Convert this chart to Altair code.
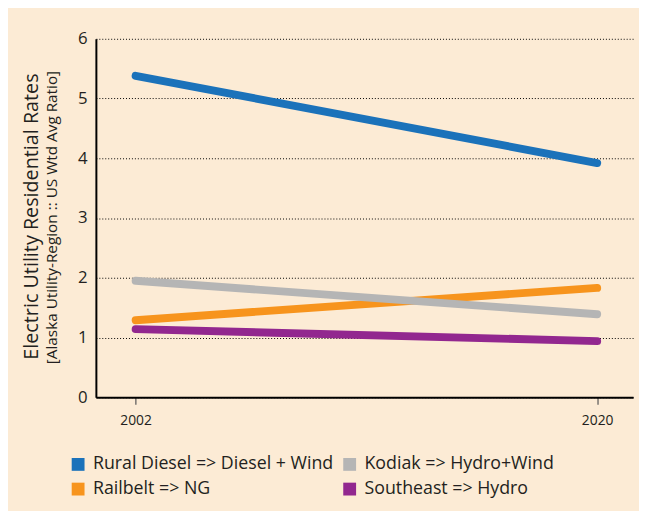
import altair as alt
import pandas as pd

series = ["Rural Diesel => Diesel + Wind", "Railbelt => NG", "Kodiak => Hydro+Wind", "Southeast => Hydro"]
colors = ["#1b72ba", "#f7941d", "#b5b5b5", "#92278f"]
years = [2002, 2020]
values_2002 = [5.38, 1.29, 1.95, 1.14]
values_2020 = [3.92, 1.83, 1.39, 0.94]
y_ticks = [0, 1, 2, 3, 4, 5, 6]

rows = []
for s, a, b in zip(series, values_2002, values_2020):
    rows.append({"series": s, "year": years[0], "value": a})
    rows.append({"series": s, "year": years[1], "value": b})
df = pd.DataFrame(rows)

FONT = "Open Sans"

x = alt.X("year:Q", scale=alt.Scale(domain=[2000.45, 2021.4], nice=False, zero=False),
          axis=alt.Axis(values=years, format="d", title=None, grid=False,
                        domainColor="black", domainWidth=2, tickColor="#555555", tickSize=7,
                        tickWidth=1.2, labelFontSize=14, labelColor="#231f20", labelPadding=10,
                        labelFont=FONT))
y = alt.Y("value:Q", scale=alt.Scale(domain=[0, 6], nice=False),
          axis=alt.Axis(values=y_ticks, format="d", title=None, grid=True, gridColor="black",
                        gridDash=[1, 2], gridWidth=1, ticks=False, domainColor="black",
                        domainWidth=2, labelFontSize=17, labelColor="#231f20",
                        labelPadding=9, labelFont=FONT))

color_scale = alt.Scale(domain=series, range=colors)

lines = alt.Chart(df).mark_line(strokeWidth=8, strokeCap="round").encode(
    x=x, y=y,
    color=alt.Color("series:N", scale=color_scale, legend=None),
    detail="series:N",
)

legend_layer = alt.Chart(df).mark_square(size=0, opacity=1, filled=True).encode(
    x=alt.X("year:Q"), y=alt.Y("value:Q"),
    color=alt.Color("series:N", scale=color_scale, sort=series,
                    legend=alt.Legend(title=None, orient="none", legendX=-27, legendY=422,
                                      columns=2, columnPadding=7, rowPadding=7,
                                      symbolType="square", symbolSize=169, symbolStrokeWidth=0,
                                      symbolOpacity=1,
                                      labelFontSize=18, labelColor="#231f20", labelFont=FONT,
                                      labelOffset=6, labelLimit=400)),
)

title_df = pd.DataFrame({"t": ["Electric Utility Residential Rates"]})
sub_df = pd.DataFrame({"t": ["[Alaska Utility-Region :: US Wtd Avg Ratio]"]})
title1 = alt.Chart(title_df).mark_text(angle=270, fontSize=20, font=FONT, color="#231f20",
                                       baseline="middle", align="center").encode(
    text="t:N", x=alt.value(-65), y=alt.value(180))
title2 = alt.Chart(sub_df).mark_text(angle=270, fontSize=15.5, font=FONT, color="#231f20",
                                     baseline="middle", align="center").encode(
    text="t:N", x=alt.value(-44), y=alt.value(181))

chart = alt.layer(lines, legend_layer, title1, title2).resolve_scale(
    color="independent"
).properties(
    width=544, height=363,
    autosize=alt.AutoSizeParams(type="none"),
    padding={"left": 89, "top": 28, "right": 6, "bottom": 112},
    background="#fcebd5",
).configure_view(stroke=None)

chart.save("out.html", embed_options={"renderer": "svg", "actions": False})
